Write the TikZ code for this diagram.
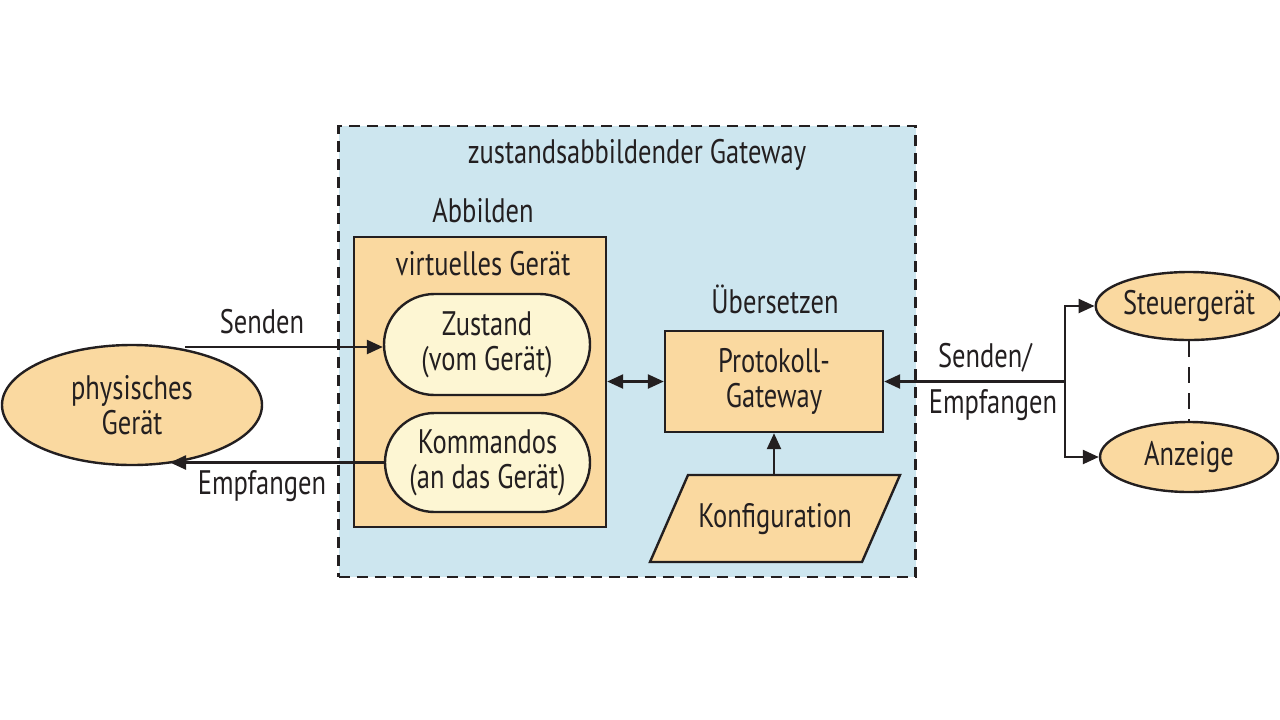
\documentclass[tikz,border=0pt]{standalone}
\usepackage{fontspec}
\setmainfont[FakeStretch=0.78]{PT Sans}
\usetikzlibrary{shapes.geometric,shapes.misc,arrows.meta,calc}
\definecolor{bgblue}{HTML}{CDE6EF}
\definecolor{orng}{HTML}{FAD9A0}
\definecolor{lyel}{HTML}{FDF6D3}
\definecolor{ink}{HTML}{231F20}
\begin{document}
\begin{tikzpicture}[x=0.5pt,y=-0.5pt,
  every node/.style={text=ink,font=\fontsize{17}{17.5}\selectfont},
  lbl/.style={inner sep=0pt},
  ln/.style={draw=ink,line width=1.2pt},
  arr/.style={ln,-{Triangle[length=8pt,width=7pt]}},
  darr/.style={ln,{Triangle[length=8pt,width=7pt]}-{Triangle[length=8pt,width=7pt]}},
  ell/.style={ellipse,draw=ink,line width=1.2pt,fill=orng,inner sep=0pt,align=center},
  stad/.style={rounded rectangle,draw=ink,line width=1.2pt,fill=lyel,align=center,inner sep=0pt},
  obox/.style={rectangle,draw=ink,line width=1.2pt,fill=orng,align=center,inner sep=0pt}]
\useasboundingbox (0,0) rectangle (1280,719);
% gateway
\node[rectangle,draw=ink,line width=1.4pt,dash pattern=on 5.5pt off 3.5pt,fill=bgblue,minimum width=288.5pt,minimum height=225.5pt,inner sep=0pt] (gw) at (627,351.5) {};
\node[lbl] (gwt) at (637,155) {zustandsabbildender Gateway};
\node[lbl] (abb) at (483,211) {Abbilden};
\node[obox,minimum width=126pt,minimum height=145pt] (vd) at (480,382) {};
\node[lbl] (vdt) at (483,264) {virtuelles Gerät};
\node[stad,minimum width=103pt,minimum height=50.5pt] (zu) at (487,344.5) {Zustand\\(vom Gerät)};
\node[stad,minimum width=102.5pt,minimum height=49.5pt] (kom) at (487.5,462.5) {Kommandos\\(an das Gerät)};
\node[lbl] (ueb) at (775,299) {Übersetzen};
\node[obox,minimum width=109pt,minimum height=50.5pt] (pg) at (774,381.5) {Protokoll-\\Gateway};
\draw[draw=ink,line width=1.2pt,fill=orng] (650,562) -- (688,475) -- (900,475) -- (862,562) -- cycle;
\node[lbl] (konf) at (775,519) {Konfiguration};
\coordinate (konftop) at (774,475);
% outside
\node[ell,minimum width=130pt,minimum height=60pt] (phys) at (132,405) {physisches\\Gerät};
\node[ell,minimum width=89pt,minimum height=34pt] (st) at (1189,306) {Steuergerät};
\node[ell,minimum width=89pt,minimum height=35pt] (an) at (1189,457) {Anzeige};
% connectors
\coordinate (s1) at (185,347);
\coordinate (e1) at (170,462.5);
\draw[arr] (s1) -- (s1 -| zu.west);
\node[lbl] (sl) at (262,322) {Senden};
\draw[arr] (kom.west) -- (e1);
\node[lbl] (el) at (262,486) {Empfangen};
\draw[darr] (vd.east |- pg.west) -- (pg.west);
\draw[arr] (konftop) -- (pg.south);
\coordinate (br) at (1065,381.5);
\draw[arr] (br) -- (pg.east);
\draw[arr] (br) |- (st.west);
\draw[arr] (br) |- (an.west);
\node[lbl] (sel) at (985,358) {Senden/};
\node[lbl] (eel) at (993,405) {Empfangen};
\draw[ln,line width=1.4pt,dash pattern=on 8pt off 5pt] (st.south) -- (an.north);
\end{tikzpicture}
\end{document}
